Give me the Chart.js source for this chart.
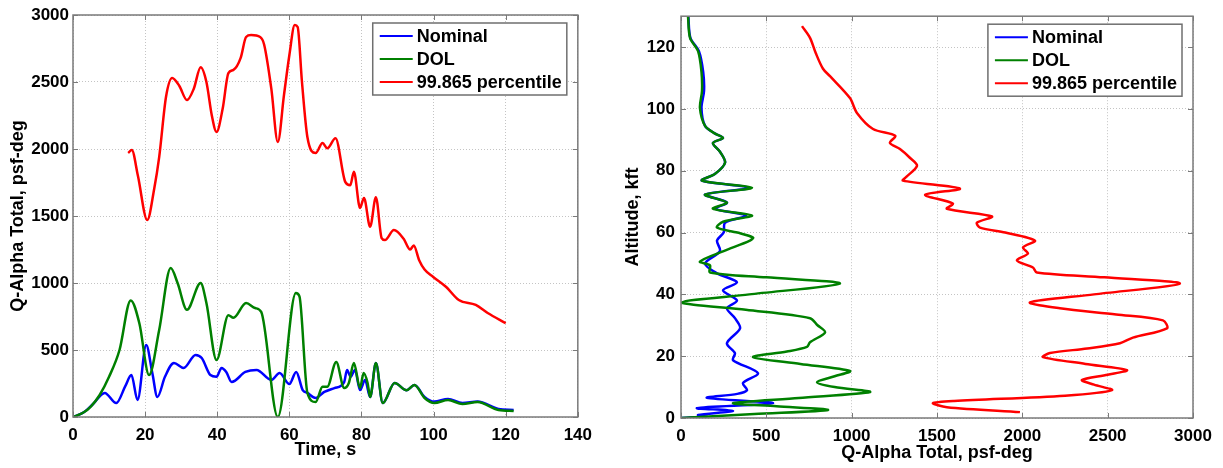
<!DOCTYPE html>
<html>
<head>
<meta charset="utf-8">
<script src="https://cdn.jsdelivr.net/npm/chart.js@4.4.1/dist/chart.umd.min.js"></script>
<style>
body { margin:0; background:#fff; width:1223px; height:468px; overflow:hidden; position:relative; }
canvas { position:absolute; top:0; }
</style>
</head>
<body>
<canvas id="left" width="600" height="468" style="left:0"></canvas>
<canvas id="right" width="623" height="468" style="left:600px"></canvas>
<script>
// Q-Alpha total vs time (left) and vs altitude (right)

const seriesNames = ['Nominal', 'DOL', '99.865 percentile'];
const seriesColors = ['#0000ff', '#008000', '#ff0000'];

// left: time, s -> Q-alpha, psf-deg
const nomTime = [0, 3, 5.5, 8.8, 12, 14.5, 16.2, 17.9, 20.3, 22, 23.4, 25.5, 28, 30.7, 34, 35.7, 38.1, 39.8, 41.2, 42.5, 44, 47.8, 50.9, 55, 57.3, 60, 61.9, 63.7, 65, 67.3, 69.7, 72.5, 75.2, 76, 77, 78.2, 79.6, 81, 82.4, 84, 85.9, 89.2, 92.5, 94.7, 97.5, 100.2, 104, 108, 112.2, 118, 122.2];
const nomQ    = [0, 35, 95, 180, 104, 230, 313, 127, 537, 328, 149, 300, 403, 366, 463, 440, 313, 300, 366, 336, 261, 336, 351, 276, 328, 246, 336, 201, 180, 142, 187, 216, 261, 351, 300, 351, 201, 276, 149, 403, 104, 254, 200, 239, 150, 115, 135, 105, 115, 60, 52];

const dolTime = [0, 3, 5, 7.4, 10, 12.9, 16, 18.4, 21.1, 23.9, 27.1, 29, 31.6, 35.4, 37, 39.8, 43.1, 44.5, 48, 50.5, 52.2, 56.8, 61.8, 62.8, 65, 67.3, 69.2, 70.5, 73, 75.2, 76.5, 77.9, 79.6, 80.6, 81.7, 82.4, 84, 85.9, 89.2, 92.5, 94.7, 97.5, 100.2, 104, 108, 112.2, 118, 122.2];
const dolQ    = [0, 35, 80, 164, 300, 500, 870, 700, 313, 650, 1112, 1000, 800, 1000, 850, 425, 760, 740, 850, 813, 784, 0, 925, 900, 180, 112, 225, 225, 410, 216, 254, 403, 216, 328, 254, 149, 403, 104, 254, 200, 239, 142, 104, 127, 97, 112, 52, 45];

const pctTime = [15.3, 16.3, 18, 20.6, 22.5, 23.9, 25.8, 27.5, 29.5, 31.6, 33.5, 35.4, 37, 38.5, 39.8, 41.5, 43.1, 44.5, 46.5, 48, 49.4, 51.9, 53, 55, 56.8, 58.5, 60, 61.5, 62.3, 63.5, 65, 67.3, 69.2, 70.5, 72.8, 75.5, 76.9, 77.9, 79.6, 80.7, 82.4, 84, 85.6, 86.5, 89, 91.7, 93.5, 94.5, 96, 97.5, 99.9, 103.5, 107, 111.7, 115, 120];
const pctQ    = [1970, 1993, 1800, 1470, 1700, 1940, 2390, 2530, 2470, 2365, 2450, 2610, 2500, 2250, 2127, 2300, 2567, 2590, 2680, 2836, 2850, 2836, 2780, 2450, 2052, 2400, 2700, 2925, 2910, 2500, 2090, 1970, 2045, 2005, 2080, 1755, 1730, 1830, 1560, 1635, 1420, 1640, 1335, 1320, 1395, 1330, 1250, 1280, 1170, 1100, 1045, 970, 873, 836, 776, 701];

// right: altitude, kft -> Q-alpha, psf-deg
const nomAlt  = [0, 0.5, 1, 2.3, 3.2, 4.8, 6.5, 7.8, 9, 11.3, 14.5, 18.7, 21, 24.2, 29, 32.3, 35.5, 38, 41.3, 43.9, 46.8, 50, 54, 57.4, 60, 63.2, 65.5, 67.7, 69.7, 72.3, 74.5, 76.8, 79, 82.6, 86, 89, 90.6, 92, 94.5, 100.3, 105.8, 112, 118.7, 123, 130];
const nomAltQ = [0, 150, 100, 305, 94, 539, 152, 330, 387, 363, 451, 305, 316, 269, 346, 316, 269, 328, 246, 328, 211, 141, 228, 211, 250, 258, 380, 200, 269, 141, 400, 123, 200, 258, 230, 187, 246, 200, 141, 120, 135, 130, 105, 55, 43];

const dolAlt  = [0, 1.3, 2.6, 3.8, 4.8, 6.5, 8.4, 10, 11.6, 13.5, 15.2, 17.5, 19.7, 21.5, 23, 24.5, 27.7, 30, 32.3, 35, 37.4, 40, 43.5, 45.5, 47.1, 49.4, 50.6, 54, 57.4, 58.4, 60, 61.6, 63.5, 65.5, 67.7, 69.7, 72.3, 74.5, 76.8, 79, 82.6, 86, 89, 90.6, 92, 94.5, 100.3, 105.8, 112, 118.7, 123, 130];
const dolAltQ = [0, 430, 861, 560, 305, 690, 1107, 900, 797, 900, 990, 700, 422, 620, 738, 756, 844, 800, 756, 380, 6, 400, 931, 500, 170, 170, 111, 250, 404, 422, 330, 211, 246, 416, 187, 269, 141, 416, 123, 200, 258, 230, 187, 246, 200, 141, 111, 123, 120, 100, 53, 41];

const pctAlt  = [1.9, 3.5, 4.8, 5.5, 7.2, 9, 10.8, 12.3, 14, 15.5, 17.5, 19.7, 21, 22.5, 24.2, 26, 29, 31.6, 33.5, 35.5, 37.4, 40, 43.5, 45.5, 47.1, 48.7, 51, 53.2, 55.2, 57.4, 60, 61.6, 63.2, 65.2, 67.7, 69.4, 72.2, 74.2, 76.8, 78, 81.6, 84.2, 87, 89, 91.3, 93.5, 98.7, 103.5, 110.6, 113, 118, 123, 126.8];
const pctAltQ = [1986, 1558, 1476, 1600, 2250, 2525, 2420, 2349, 2500, 2613, 2370, 2121, 2162, 2380, 2572, 2648, 2847, 2824, 2550, 2220, 2045, 2420, 2923, 2480, 2085, 2062, 1968, 2033, 2004, 2074, 1900, 1752, 1734, 1822, 1558, 1593, 1430, 1634, 1300, 1320, 1383, 1341, 1283, 1224, 1255, 1125, 1031, 990, 873, 832, 790, 756, 709];

// tick values
const timeTicks = [0, 20, 40, 60, 80, 100, 120, 140];
const qTicks = [0, 500, 1000, 1500, 2000, 2500, 3000];
const altTicks = [0, 20, 40, 60, 80, 100, 120];

const FONT = '"Liberation Sans", Arial, sans-serif';
const tickFont = { family: FONT, size: 17, weight: 'bold' };
const titleFont = { family: FONT, size: 18, weight: 'bold' };

function pairs(xs, ys) { return xs.map((x, i) => ({ x: x, y: ys[i] })); }

const framePlugin = {
    id: 'frame',
    afterDatasetsDraw(chart) {
        const { ctx, chartArea: a, scales } = chart;
        ctx.save();
        ctx.strokeStyle = '#7a7a7a';
        ctx.lineWidth = 1;
        ctx.beginPath();
        scales.x.ticks.forEach(t => {
            const px = Math.round(scales.x.getPixelForValue(t.value)) + 0.5;
            ctx.moveTo(px, a.bottom); ctx.lineTo(px, a.bottom - 5);
            ctx.moveTo(px, a.top); ctx.lineTo(px, a.top + 5);
        });
        scales.y.ticks.forEach(t => {
            const py = Math.round(scales.y.getPixelForValue(t.value)) + 0.5;
            ctx.moveTo(a.left, py); ctx.lineTo(a.left + 5, py);
            ctx.moveTo(a.right, py); ctx.lineTo(a.right - 5, py);
        });
        ctx.stroke();
        ctx.lineWidth = 1.5;
        ctx.strokeRect(a.left, a.top, a.right - a.left, a.bottom - a.top);
        ctx.restore();
    }
};

const boxLegend = {
    id: 'boxLegend',
    afterDraw(chart) {
        const { ctx, chartArea: a } = chart;
        ctx.save();
        ctx.font = 'bold 18px ' + FONT;
        const sets = chart.data.datasets;
        const w = 44 + Math.max(...sets.map(d => ctx.measureText(d.label).width)) + 5;
        const h = 72;
        const x = a.right - 11 - w, y = a.top + 8;
        ctx.fillStyle = '#fff';
        ctx.fillRect(x, y, w, h);
        ctx.strokeStyle = '#6f6f6f';
        ctx.lineWidth = 1.5;
        ctx.strokeRect(x, y, w, h);
        sets.forEach((d, i) => {
            const cy = y + 13 + i * 23;
            ctx.strokeStyle = d.borderColor;
            ctx.lineWidth = 2;
            ctx.beginPath(); ctx.moveTo(x + 7, cy); ctx.lineTo(x + 40, cy); ctx.stroke();
            ctx.fillStyle = '#000';
            ctx.textBaseline = 'middle';
            ctx.fillText(d.label, x + 44, cy + 1);
        });
        ctx.restore();
    }
};

function axis(ticksArr, min, max, opts) {
    return {
        type: 'linear', min: min, max: max,
        afterBuildTicks: s => { s.ticks = ticksArr.map(v => ({ value: v })); },
        afterFit: opts.fit,
        grid: { color: '#c4c4c4', lineWidth: 1, drawTicks: false },
        border: { display: false, dash: [1, 2] },
        ticks: { font: tickFont, color: '#000', padding: opts.pad, maxRotation: 0, callback: v => String(v) },
        title: { display: true, text: opts.title, font: titleFont, color: '#000', padding: opts.tpad }
    };
}

function makeSets(list, tension) {
    return list.map((data, i) => ({
        label: seriesNames[i],
        data: data,
        borderColor: seriesColors[i],
        backgroundColor: seriesColors[i],
        borderWidth: 2.5,
        pointRadius: 0,
        fill: false,
        showLine: true,
        order: 3 - i,
        tension: tension,
        cubicInterpolationMode: tension ? 'default' : 'monotone'
    }));
}

new Chart(document.getElementById('left'), {
    type: 'line',
    data: { datasets: makeSets([pairs(nomTime, nomQ), pairs(dolTime, dolQ), pairs(pctTime, pctQ)], 0) },
    options: {
        responsive: false, animation: false,
        layout: { padding: { left: 0, right: 17, top: 15, bottom: 0 } },
        plugins: { legend: { display: false }, tooltip: { enabled: false } },
        scales: {
            x: axis(timeTicks, 0, 140, { fit: s => { s.height = 51; }, pad: 8, title: 'Time, s', tpad: { top: 0, bottom: 7 } }),
            y: axis(qTicks, 0, 3000, { fit: s => { s.width = 73; }, pad: 4, title: 'Q-Alpha Total, psf-deg', tpad: { top: 7, bottom: 0 } })
        }
    },
    plugins: [framePlugin, boxLegend]
});

new Chart(document.getElementById('right'), {
    type: 'scatter',
    data: { datasets: makeSets([pairs(nomAltQ, nomAlt), pairs(dolAltQ, dolAlt), pairs(pctAltQ, pctAlt)], 0.3) },
    options: {
        responsive: false, animation: false,
        layout: { padding: { left: 0, right: 30, top: 15, bottom: 0 } },
        plugins: { legend: { display: false }, tooltip: { enabled: false } },
        scales: {
            x: axis(qTicks, 0, 3000, { fit: s => { s.height = 50; }, pad: 8, title: 'Q-Alpha Total, psf-deg', tpad: { top: 0, bottom: 4 } }),
            y: axis(altTicks, 0, 130, { fit: s => { s.width = 81; }, pad: 6, title: 'Altitude, kft', tpad: { top: 22, bottom: 0 } })
        }
    },
    plugins: [framePlugin, boxLegend]
});
</script>
</body>
</html>
